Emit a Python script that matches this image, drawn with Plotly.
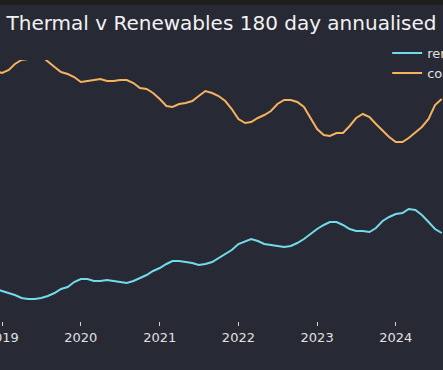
import plotly.graph_objects as go
import pandas as pd

# Monthly dates (2018-12 .. 2024-08)
dates = pd.date_range("2018-12-01", "2024-08-01", freq="MS")

# Annualised generation (arbitrary TWh-like units)
thermal = [
    154.5, 153.5, 155, 158, 160, 160.5, 161, 162, 159, 156.5, 154, 153, 151.5,
    149, 149.5, 150, 150.5, 149.5, 149.5, 150, 150, 148.5, 146, 145.5, 143.5,
    140.5, 137, 136.5, 138, 138.5, 139.5, 142, 144.5, 143.5, 142, 139.5, 135.5,
    130.5, 128.5, 129, 131, 132.5, 134.5, 138, 140, 140, 139, 136.5, 131,
    125.5, 122.5, 122, 123.5, 123.5, 127, 131, 133, 131.5, 128, 124.5, 121.5,
    119, 119, 121, 124, 126.5, 130.5, 137.5, 140.5, 141,
]
renewables = [
    45.5, 44.5, 43.5, 42.5, 41, 40.5, 40.5, 41, 42, 43.5, 45.5, 46.5, 49,
    50.5, 50.5, 49.5, 49.5, 50, 49.5, 49, 48.5, 49.5, 51, 52.5, 54.5,
    56, 58, 59.5, 59.5, 59, 58.5, 57.5, 58, 59, 61, 63, 65,
    68, 69.5, 70.5, 69.5, 68, 67.5, 67, 66.5, 67, 68.5, 70.5, 73,
    75.5, 77.5, 79, 79, 77.5, 75.5, 74.5, 74.5, 74, 76, 79.5, 81.5,
    83, 83.5, 85.5, 85, 82.5, 79, 75.5, 73.5, 73,
]
dates = dates[:len(thermal)]

series_names = ["renewables", "coal"]
series_colors = ["#72dbe9", "#f5b25f"]

BG = "#272935"
TOPBAND = "#1e1e1e"

fig = go.Figure()
fig.add_trace(go.Scatter(x=dates, y=renewables, mode="lines", name=series_names[0],
                         line=dict(color=series_colors[0], width=2)))
fig.add_trace(go.Scatter(x=dates, y=thermal, mode="lines", name=series_names[1],
                         line=dict(color=series_colors[1], width=2)))

H = 365
fig.update_layout(
    width=443, height=H,
    paper_bgcolor=BG, plot_bgcolor=BG,
    margin=dict(l=0, r=0, t=55, b=49, pad=0, autoexpand=False),
    font=dict(family="DejaVu Sans", color="#e0e0e0", size=13),
    title=dict(text="Thermal v Renewables 180 day annualised",
               x=0.5, xanchor="center", y=1 - 18 / H, yanchor="middle",
               yref="container", font=dict(size=20, color="#f2f2f2")),
    legend=dict(x=0.874, xanchor="left", y=1.084, yanchor="top",
                bgcolor="rgba(0,0,0,0)", font=dict(size=13, color="#e0e0e0")),
    showlegend=True,
    xaxis=dict(range=["2018-12-22", "2024-08-07"], showgrid=False, zeroline=False,
               showline=False, ticks="outside", ticklen=4, tickwidth=1,
               tickcolor="#d0d0d0", dtick="M12", tick0="2019-01-01",
               tickformat="%Y", ticklabeloverflow="allow",
               tickfont=dict(size=13, color="#e0e0e0")),
    yaxis=dict(range=[29.5, 160], showgrid=False, zeroline=False,
               showline=False, showticklabels=False, ticks=""),
)

fig.write_html(
    "out.html",
    config={"displayModeBar": False},
    post_script=(
        "document.body.style.margin='5px 0 0 0';"
        "document.body.style.overflow='hidden';"
        f"document.body.style.background='{TOPBAND}';"
    ),
)
